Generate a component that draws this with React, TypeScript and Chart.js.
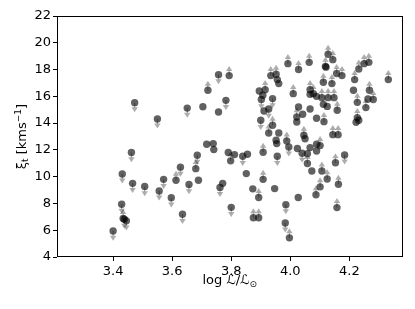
import { useEffect, useRef } from "react";
import { Chart, registerables } from "chart.js";
Chart.register(...registerables);

// log L/Lsun
const logL = [
  3.400, 3.429, 3.434, 3.438, 3.445, 3.431, 3.462, 3.466, 3.473, 3.507,
  3.550, 3.556, 3.571, 3.597, 3.613, 3.628, 3.635, 3.651, 3.657, 3.680,
  3.685, 3.689, 3.704, 3.717, 3.721, 3.739, 3.741, 3.757, 3.757, 3.762,
  3.771, 3.782, 3.790, 3.793, 3.798, 3.800, 3.811, 3.839, 3.855, 3.851,
  3.873, 3.875, 3.893, 3.893, 3.895, 3.915, 3.902, 3.907, 3.940, 3.911,
  3.927, 3.900, 3.940, 3.927, 3.961, 3.952, 3.908, 3.908, 3.947, 3.956,
  3.954, 3.934, 3.952, 3.961, 3.956, 3.992, 4.028, 4.010, 4.028, 4.022,
  3.988, 3.995, 3.985, 3.983, 3.997, 4.027, 4.022, 4.046, 4.050, 4.024,
  4.040, 4.058, 4.067, 4.089, 4.101, 4.058, 4.073, 4.107, 4.125, 4.101,
  4.087, 4.144, 4.162, 4.153, 4.184, 4.163, 4.158, 4.128, 4.144, 4.119,
  4.121, 4.064, 4.157, 4.175, 4.112, 4.141, 4.232, 4.250, 4.266, 4.332,
  4.218, 4.214, 4.268, 4.263, 4.281, 4.227, 4.256, 4.067, 4.078, 4.067,
  4.089, 4.107, 4.128, 4.148, 4.112, 4.125, 4.159, 4.042, 4.067, 4.089,
  4.114, 4.227, 4.232, 4.223, 4.089,
];

// xi_t [km/s]
const xiT = [
  5.94, 7.94, 6.87, 6.82, 6.70, 10.20, 11.80, 9.50, 15.53, 9.26,
  14.31, 8.93, 9.80, 8.42, 9.73, 10.71, 7.19, 15.12, 9.41, 10.60,
  11.60, 9.73, 15.22, 12.42, 16.45, 12.47, 12.02, 17.62, 14.83, 9.20,
  9.50, 15.70, 11.80, 17.55, 11.18, 7.71, 11.65, 11.52, 11.67, 10.23,
  9.09, 6.93, 6.93, 8.44, 16.40, 16.50, 15.76, 16.08, 15.83, 14.90,
  15.05, 14.21, 13.84, 13.26, 13.26, 12.72, 11.82, 9.80, 9.11, 11.52,
  12.47, 17.55, 17.65, 16.95, 17.25, 18.44, 18.00, 16.20, 15.20, 14.46,
  12.66, 12.22, 7.91, 6.54, 5.43, 8.44, 14.08, 13.09, 12.83, 12.10,
  11.75, 11.72, 12.17, 11.92, 12.32, 10.98, 10.42, 10.42, 9.83, 9.24,
  8.65, 13.14, 13.14, 11.04, 11.62, 9.43, 7.69, 19.14, 18.74, 18.24,
  18.18, 18.54, 17.70, 17.55, 17.05, 16.95, 18.04, 18.44, 18.54, 17.25,
  17.25, 16.45, 16.45, 15.80, 15.76, 15.55, 15.16, 16.50, 16.20, 16.15,
  16.00, 15.90, 15.90, 15.90, 15.40, 15.25, 14.96, 14.66, 15.05, 14.36,
  14.11, 14.41, 14.21, 14.06, 12.42,
];

// limit direction: 1 = lower limit (arrow up), -1 = upper limit (arrow down), 0 = none
const limitDir = [
  -1, -1, 1, -1, -1, -1, -1, -1, -1, -1,
  -1, -1, -1, -1, 1, -1, -1, -1, -1, 1,
  -1, 0, 0, 0, 1, 0, 0, -1, 0, -1,
  0, -1, 0, 1, 1, -1, 0, -1, 0, 0,
  0, 1, 1, 1, 0, 1, -1, 0, -1, 0,
  -1, -1, 1, 1, 0, 0, 1, 1, 0, -1,
  0, 1, 1, 0, 0, 1, 1, 1, 0, 1,
  1, -1, -1, -1, 1, 0, 0, 1, 0, 0,
  -1, 0, 0, 0, 1, 1, 0, 1, 1, 1,
  1, 1, 1, 1, -1, 1, 1, 1, 1, 1,
  0, 1, 1, 1, 1, 1, 1, 1, 1, 1,
  1, 0, 1, 0, 1, 1, 1, 1, 1, 0,
  0, 1, 1, 1, 0, 0, 1, 0, 0, 0,
  1, 1, 0, 0, 0,
];

const xTicks = [3.4, 3.6, 3.8, 4.0, 4.2];
const yTicks = [4, 6, 8, 10, 12, 14, 16, 18, 20, 22];

const FONT = "'DejaVu Sans', 'Liberation Sans', sans-serif";

type Seg = { t: string; size: number; dy: number };

function drawSegs(ctx: CanvasRenderingContext2D, segs: Seg[], cx: number, cy: number, rot: number) {
  ctx.save();
  ctx.translate(cx, cy);
  ctx.rotate(rot);
  ctx.fillStyle = "#000";
  ctx.textBaseline = "alphabetic";
  ctx.textAlign = "left";
  let total = 0;
  const widths = segs.map((s) => {
    ctx.font = `${s.size}px ${FONT}`;
    const w = ctx.measureText(s.t).width;
    total += w;
    return w;
  });
  let x = -total / 2;
  const base = 4.5; // baseline offset so text is vertically centred
  segs.forEach((s, i) => {
    ctx.font = `${s.size}px ${FONT}`;
    ctx.fillText(s.t, x, base + s.dy);
    x += widths[i];
  });
  ctx.restore();
}

const limitsPlugin = {
  id: "limits",
  beforeDatasetsDraw(chart: any) {
    const meta = chart.getDatasetMeta(0);
    const ctx: CanvasRenderingContext2D = chart.ctx;
    ctx.save();
    ctx.strokeStyle = "rgba(0,0,0,0.32)";
    ctx.fillStyle = "rgba(0,0,0,0.32)";
    ctx.lineWidth = 1.2;
    meta.data.forEach((el: any, i: number) => {
      const d = limitDir[i];
      if (!d) return;
      const x = el.x;
      const y = el.y;
      const s = -d;
      ctx.beginPath();
      ctx.moveTo(x, y);
      ctx.lineTo(x, y + s * 5);
      ctx.stroke();
      ctx.beginPath();
      ctx.moveTo(x - 3.2, y + s * 4.6);
      ctx.lineTo(x + 3.2, y + s * 4.6);
      ctx.lineTo(x, y + s * 9.6);
      ctx.closePath();
      ctx.fill();
    });
    ctx.restore();
  },
};

const framePlugin = {
  id: "frame",
  afterDraw(chart: any) {
    const { left, right, top, bottom } = chart.chartArea;
    const ctx: CanvasRenderingContext2D = chart.ctx;
    ctx.save();
    ctx.strokeStyle = "#000";
    ctx.lineWidth = 1;
    ctx.strokeRect(Math.round(left) + 0.5, Math.round(top) + 0.5, Math.round(right) - Math.round(left) - 1, Math.round(bottom) - Math.round(top) - 1);
    ctx.restore();

    const cx = (left + right) / 2;
    const cy = (top + bottom) / 2;
    drawSegs(ctx, [
      { t: "log ", size: 13, dy: 0 },
      { t: "\u2112/\u2112", size: 13, dy: 0 },
      { t: "\u2299", size: 9, dy: 2.5 },
    ], cx, 279.5, 0);
    drawSegs(ctx, [
      { t: "\u03be", size: 13, dy: 0 },
      { t: "t", size: 9, dy: 2.5 },
      { t: " [kms", size: 13, dy: 0 },
      { t: "\u22121", size: 9, dy: -5 },
      { t: "]", size: 13, dy: 0 },
    ], 21, cy, -Math.PI / 2);
  },
};

export default function App() {
  const ref = useRef<HTMLCanvasElement>(null);
  useEffect(() => {
    const chart = new Chart(ref.current as HTMLCanvasElement, {
      type: "scatter",
      data: {
        datasets: [
          {
            data: logL.map((x, i) => ({ x, y: xiT[i] })),
            pointBackgroundColor: "rgba(0,0,0,0.62)",
            pointBorderWidth: 0,
            pointBorderColor: "rgba(0,0,0,0)",
            pointRadius: 3.7,
            pointHoverRadius: 3.7,
          },
        ],
      },
      options: {
        animation: false,
        responsive: false,
        devicePixelRatio: 1,
        events: [],
        layout: { padding: { top: 16, right: 12.5, left: 0, bottom: 0 } },
        plugins: { legend: { display: false }, tooltip: { enabled: false } },
        scales: {
          x: {
            type: "linear",
            min: 3.21,
            max: 4.38,
            afterBuildTicks: (s: any) => {
              s.ticks = xTicks.map((v) => ({ value: v }));
            },
            afterFit: (s: any) => {
              s.height = 52;
            },
            grid: { display: true, drawOnChartArea: false, drawTicks: true, tickLength: 4, color: "#000", lineWidth: 1 },
            border: { display: false },
            ticks: {
              autoSkip: false,
              maxRotation: 0,
              padding: 3,
              color: "#000",
              font: { family: FONT, size: 13 },
              callback: (v: any) => Number(v).toFixed(1),
            },
          },
          y: {
            type: "linear",
            min: 4,
            max: 22,
            afterBuildTicks: (s: any) => {
              s.ticks = yTicks.map((v) => ({ value: v }));
            },
            afterFit: (s: any) => {
              s.width = 57;
            },
            grid: { display: true, drawOnChartArea: false, drawTicks: true, tickLength: 4, color: "#000", lineWidth: 1 },
            border: { display: false },
            ticks: {
              autoSkip: false,
              padding: 2,
              color: "#000",
              font: { family: FONT, size: 13 },
              callback: (v: any) => String(v),
            },
          },
        },
      },
      plugins: [limitsPlugin, framePlugin],
    });
    return () => chart.destroy();
  }, []);
  return (
    <div style={{ position: "fixed", left: 0, top: 0, width: 415, height: 309, background: "#fff" }}>
      <canvas ref={ref} width={415} height={309} style={{ display: "block" }} />
    </div>
  );
}
